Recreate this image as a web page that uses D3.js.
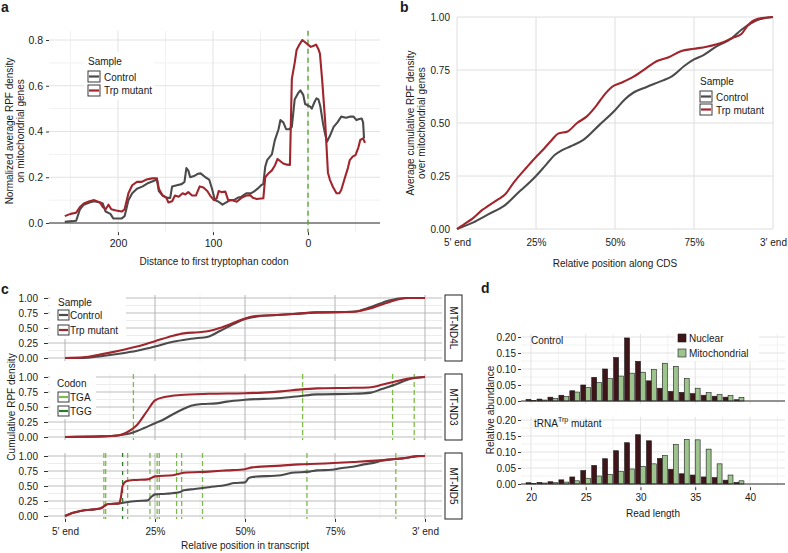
<!DOCTYPE html>
<html><head><meta charset="utf-8">
<script src="https://cdn.jsdelivr.net/npm/d3@7"></script>
<style>body{margin:0;background:#fff;} svg{display:block;}</style>
</head><body><svg id="chart" width="788" height="553"></svg>
<script>
// ---------------- DATA ----------------
// Panel a: [distance to first Trp codon, normalized density]
const aControl = [[256,0.005],[248,0.008],[244,0.01],[240,0.06],[236,0.08],[230,0.09],[225,0.095],[219,0.09],[216,0.085],[213,0.05],[208,0.04],[205,0.02],[196,0.02],[193,0.03],[189,0.10],[185,0.13],[180,0.15],[174,0.16],[168,0.175],[162,0.185],[159,0.19],[157,0.14],[153,0.12],[148,0.11],[145,0.11],[143,0.16],[138,0.165],[133,0.17],[130,0.18],[128,0.24],[126,0.23],[124,0.20],[120,0.205],[116,0.215],[113,0.217],[108,0.2],[104,0.19],[101,0.15],[98,0.10],[94,0.093],[90,0.08],[86,0.09],[82,0.1],[78,0.1],[74,0.11],[70,0.115],[65,0.13],[60,0.13],[57,0.137],[53,0.15],[49,0.166],[47,0.17],[45,0.246],[43,0.275],[40,0.29],[38,0.30],[35,0.36],[31,0.41],[29,0.45],[26,0.44],[23,0.41],[20,0.41],[17,0.42],[14,0.54],[10,0.57],[8,0.58],[5,0.56],[3,0.52],[1,0.516],[-2,0.51],[-4,0.50],[-7,0.53],[-9,0.545],[-11,0.54],[-13,0.51],[-16,0.43],[-18,0.39],[-20,0.355],[-23,0.38],[-27,0.42],[-31,0.44],[-35,0.465],[-40,0.46],[-44,0.465],[-48,0.465],[-51,0.45],[-54,0.455],[-56.5,0.457],[-58,0.44],[-59,0.37]];
const aMutant = [[256,0.03],[250,0.04],[244,0.045],[240,0.07],[236,0.085],[230,0.095],[225,0.1],[219,0.09],[216,0.07],[213,0.06],[210,0.08],[207,0.06],[202,0.055],[196,0.05],[193,0.06],[189,0.13],[185,0.165],[180,0.18],[175,0.18],[170,0.19],[164,0.195],[159,0.195],[157,0.15],[153,0.12],[149,0.11],[147,0.09],[143,0.095],[140,0.12],[136,0.115],[132,0.13],[129,0.125],[126,0.135],[122,0.12],[118,0.12],[114,0.16],[110,0.155],[106,0.14],[103,0.12],[99,0.10],[96,0.108],[94,0.14],[91,0.135],[87,0.137],[84,0.10],[80,0.1],[75,0.093],[70,0.11],[65,0.12],[61,0.122],[58,0.11],[54,0.105],[47,0.108],[45,0.2],[42,0.215],[38,0.23],[35,0.25],[32,0.28],[29,0.27],[26,0.26],[22,0.255],[19,0.254],[17,0.63],[14,0.7],[12,0.756],[9,0.78],[6,0.80],[3,0.79],[0,0.78],[-3,0.77],[-6,0.775],[-8.5,0.78],[-11,0.76],[-12.6,0.74],[-15,0.62],[-18,0.45],[-21,0.22],[-23,0.19],[-26,0.16],[-30,0.13],[-33,0.13],[-35,0.144],[-39,0.2],[-42,0.24],[-44,0.275],[-47,0.29],[-50,0.297],[-53,0.33],[-55,0.363],[-58,0.37],[-59,0.36],[-60,0.35]];
const aXTicks = [200, 100, 0];
const aXMinor = [250, 150, 50, -50];
const aYTicks = [0, 0.2, 0.4, 0.6, 0.8];
const aYMinor = [0.1, 0.3, 0.5, 0.7];

// Panel b: [relative position along CDS, cumulative density]
const bControl = [[0,0],[0.05,0.03],[0.1,0.07],[0.15,0.11],[0.2,0.18],[0.23,0.22],[0.25,0.25],[0.28,0.3],[0.31,0.35],[0.33,0.37],[0.36,0.39],[0.4,0.42],[0.45,0.49],[0.5,0.56],[0.53,0.61],[0.56,0.645],[0.6,0.67],[0.65,0.7],[0.68,0.72],[0.72,0.77],[0.75,0.80],[0.78,0.82],[0.82,0.86],[0.87,0.9],[0.9,0.94],[0.93,0.97],[0.96,0.99],[1,1]];
const bMutant = [[0,0],[0.02,0.02],[0.05,0.05],[0.08,0.09],[0.1,0.11],[0.13,0.14],[0.15,0.16],[0.18,0.22],[0.22,0.29],[0.25,0.34],[0.27,0.37],[0.3,0.42],[0.32,0.45],[0.35,0.46],[0.38,0.5],[0.41,0.53],[0.44,0.58],[0.47,0.64],[0.49,0.67],[0.52,0.69],[0.56,0.72],[0.6,0.76],[0.63,0.79],[0.67,0.81],[0.71,0.84],[0.75,0.85],[0.79,0.86],[0.84,0.88],[0.87,0.9],[0.9,0.92],[0.92,0.96],[0.95,0.99],[1,1]];
const posTicks = [0, 0.25, 0.5, 0.75, 1];
const posLabels = ["5\u2032 end", "25%", "50%", "75%", "3\u2032 end"];
const cumTicks = [0, 0.25, 0.5, 0.75, 1];

// Panel c: facets
const cFacets = ["MT-ND4L", "MT-ND3", "MT-ND5"];
const cND4LControl = [[0,0],[0.05,0],[0.1,0.03],[0.15,0.07],[0.2,0.12],[0.25,0.19],[0.3,0.27],[0.35,0.32],[0.4,0.36],[0.43,0.45],[0.47,0.57],[0.5,0.65],[0.53,0.69],[0.6,0.72],[0.65,0.74],[0.7,0.76],[0.8,0.77],[0.85,0.85],[0.9,0.96],[0.95,1],[1,1]];
const cND4LMutant = [[0,0],[0.05,0.01],[0.1,0.06],[0.15,0.12],[0.2,0.19],[0.25,0.28],[0.3,0.37],[0.33,0.41],[0.37,0.43],[0.4,0.45],[0.43,0.5],[0.47,0.59],[0.5,0.66],[0.53,0.7],[0.6,0.72],[0.65,0.74],[0.7,0.76],[0.8,0.77],[0.85,0.83],[0.9,0.93],[0.95,1],[1,1]];
const cND3Control = [[0,0],[0.1,0.01],[0.15,0.03],[0.18,0.06],[0.2,0.1],[0.22,0.15],[0.25,0.23],[0.27,0.28],[0.3,0.38],[0.33,0.47],[0.35,0.52],[0.38,0.55],[0.42,0.56],[0.45,0.59],[0.5,0.62],[0.6,0.65],[0.65,0.68],[0.7,0.71],[0.8,0.72],[0.85,0.74],[0.88,0.8],[0.92,0.88],[0.96,0.97],[1,1]];
const cND3Mutant = [[0,0],[0.1,0.01],[0.15,0.03],[0.17,0.07],[0.2,0.2],[0.23,0.45],[0.25,0.61],[0.28,0.67],[0.32,0.7],[0.4,0.72],[0.5,0.73],[0.55,0.74],[0.6,0.76],[0.65,0.79],[0.7,0.81],[0.8,0.82],[0.85,0.83],[0.88,0.87],[0.92,0.93],[0.95,0.97],[1,1]];
const cND5Control = [[0,0],[0.02,0.05],[0.04,0.08],[0.06,0.1],[0.08,0.11],[0.1,0.13],[0.11,0.17],[0.12,0.2],[0.15,0.21],[0.17,0.23],[0.2,0.25],[0.23,0.26],[0.24,0.32],[0.25,0.36],[0.28,0.37],[0.32,0.4],[0.33,0.43],[0.36,0.45],[0.4,0.48],[0.45,0.52],[0.47,0.55],[0.5,0.56],[0.51,0.63],[0.52,0.65],[0.6,0.68],[0.63,0.72],[0.68,0.74],[0.7,0.76],[0.74,0.77],[0.77,0.8],[0.8,0.82],[0.83,0.86],[0.86,0.89],[0.88,0.92],[0.9,0.94],[0.94,0.96],[0.97,0.99],[1,1]];
const cND5Mutant = [[0,0],[0.02,0.05],[0.04,0.08],[0.06,0.1],[0.08,0.11],[0.1,0.13],[0.11,0.17],[0.12,0.2],[0.15,0.21],[0.155,0.3],[0.16,0.5],[0.17,0.58],[0.19,0.6],[0.23,0.61],[0.25,0.66],[0.3,0.68],[0.33,0.72],[0.4,0.74],[0.45,0.76],[0.5,0.78],[0.52,0.81],[0.6,0.84],[0.65,0.86],[0.7,0.87],[0.8,0.9],[0.9,0.94],[0.95,0.97],[0.98,1],[1,1]];
const cND4LTGA = [];
const cND4LTGG = [];
const cND3TGA = [0.19, 0.66, 0.91, 0.97];
const cND3TGG = [];
const cND5TGA = [0.108, 0.113, 0.174, 0.236, 0.256, 0.262, 0.31, 0.324, 0.382, 0.672, 0.919];
const cND5TGG = [0.16];

// Panel d: read length distributions
const dFacets = ["Control", "tRNA^Trp mutant"];
const dLengths = [20,21,22,23,24,25,26,27,28,29,30,31,32,33,34,35,36,37,38,39];
const dControlNuclear = [0.005,0.006,0.012,0.018,0.032,0.05,0.074,0.1,0.136,0.197,0.124,0.063,0.04,0.03,0.027,0.023,0.018,0.015,0.012,0.004];
const dControlMito    = [0.002,0.003,0.008,0.014,0.028,0.042,0.058,0.07,0.078,0.087,0.09,0.098,0.118,0.108,0.07,0.04,0.026,0.02,0.017,0.011];
const dMutantNuclear  = [0.004,0.005,0.007,0.013,0.022,0.042,0.058,0.079,0.104,0.129,0.154,0.135,0.08,0.046,0.032,0.028,0.022,0.02,0.012,0.005];
const dMutantMito     = [0.002,0.003,0.004,0.006,0.01,0.018,0.025,0.03,0.04,0.047,0.055,0.063,0.089,0.123,0.139,0.138,0.109,0.063,0.028,0.01];
const dXTicks = [20, 25, 30, 35, 40];
const dXMinor = [22.5, 27.5, 32.5, 37.5, 42.5];
const dYTicks = [0, 0.05, 0.1, 0.15, 0.2];
const dYMinor = [0.025, 0.075, 0.125, 0.175];

// ---------------- STYLE ----------------
const FONT = '"Liberation Sans", Arial, Helvetica, sans-serif';
const CTRL = "#4b4b4b", MUT = "#a1252c";
const TGA = "#7dbb4a", TGG = "#2f7a2a";
const NUC = "#3f1519", MITO = "#9dc48d";
const TXT = "#1a1a1a";

const svg = d3.select("#chart").style("font-family", FONT);

function label(x, y, s, o = {}) {
  const t = svg.append("text").attr("x", x).attr("y", y)
    .attr("font-size", o.size || 10).attr("text-anchor", o.anchor || "start")
    .attr("dominant-baseline", "central").attr("fill", TXT)
    .attr("font-family", FONT).text(s);
  if (o.weight) t.attr("font-weight", o.weight);
  if (o.rot) t.attr("transform", `rotate(${o.rot},${x},${y})`);
  return t;
}
function styleAxis(g, size = 10) {
  g.select(".domain").remove();
  g.selectAll(".tick line").attr("stroke", "#333");
  g.selectAll(".tick text").attr("fill", TXT).attr("font-size", size).attr("font-family", FONT);
}
function vgrid(g, vals, x, T, B, color, w = 1) {
  g.append("g").selectAll("line").data(vals).join("line")
    .attr("x1", d => x(d)).attr("x2", d => x(d)).attr("y1", T).attr("y2", B)
    .attr("stroke", color).attr("stroke-width", w);
}
function hgrid(g, vals, y, L, R, color, w = 1) {
  g.append("g").selectAll("line").data(vals).join("line")
    .attr("y1", d => y(d)).attr("y2", d => y(d)).attr("x1", L).attr("x2", R)
    .attr("stroke", color).attr("stroke-width", w);
}
function bg(x, y, w, h) {
  svg.append("rect").attr("x", x).attr("y", y).attr("width", w).attr("height", h).attr("fill", "#fff");
}
function key(x, y, w, h, color) {
  svg.append("rect").attr("x", x).attr("y", y).attr("width", w).attr("height", h)
    .attr("fill", "#fff").attr("stroke", "#3a3a3a").attr("stroke-width", 1);
  svg.append("line").attr("x1", x + 1).attr("x2", x + w - 1).attr("y1", y + h / 2).attr("y2", y + h / 2)
    .attr("stroke", color).attr("stroke-width", 2.2);
}

// ---------------- PANEL A ----------------
{
  const x = d3.scaleLinear().domain([272.6, -75.8]).range([49, 380]);
  const y = d3.scaleLinear().domain([0, 0.8]).range([223, 40]);
  const L = 49, R = 380, T = y(0.84), B = y(-0.04);
  const g = svg.append("g");
  vgrid(g, aXMinor, x, T, B, "#f1f1f1");
  hgrid(g, aYMinor, y, L, R, "#f1f1f1");
  vgrid(g, aXTicks, x, T, B, "#e2e2e2");
  hgrid(g, aYTicks, y, L, R, "#e2e2e2");
  g.append("line").attr("x1", L).attr("x2", R).attr("y1", y(0)).attr("y2", y(0)).attr("stroke", "#333").attr("stroke-width", 1.2);
  g.append("line").attr("x1", x(0)).attr("x2", x(0)).attr("y1", T).attr("y2", B)
    .attr("stroke", "#5aa832").attr("stroke-width", 1.4).attr("stroke-dasharray", "5,4");
  const line = d3.line().x(d => x(d[0])).y(d => y(d[1]));
  g.append("path").datum(aControl).attr("d", line).attr("fill", "none").attr("stroke", CTRL).attr("stroke-width", 2.1).attr("stroke-linejoin", "round");
  g.append("path").datum(aMutant).attr("d", line).attr("fill", "none").attr("stroke", MUT).attr("stroke-width", 2.1).attr("stroke-linejoin", "round");
  g.append("g").attr("transform", `translate(${L},0)`)
    .call(d3.axisLeft(y).tickValues(aYTicks).tickFormat(d3.format(".1f")).tickSize(3).tickPadding(3)).call(s => styleAxis(s, 10.5));
  g.append("g").attr("transform", `translate(0,${B})`)
    .call(d3.axisBottom(x).tickValues(aXTicks).tickFormat(d3.format("d")).tickSize(3).tickPadding(4)).call(s => styleAxis(s, 10.5));
  label(9, 131, "Normalized average RPF density", { anchor: "middle", rot: -90 });
  label(20, 131, "on mitochondrial genes", { anchor: "middle", rot: -90 });
  label(214, 261, "Distance to first tryptophan codon", { anchor: "middle" });
  bg(84, 52, 70, 48);
  label(88, 61, "Sample");
  key(88, 71, 12, 11, CTRL); label(104, 77, "Control");
  key(88, 85, 12, 11, MUT); label(104, 90, "Trp mutant");
  label(1, 7, "a", { size: 14, weight: "bold" });
}

// ---------------- PANEL B ----------------
{
  const x = d3.scaleLinear().domain([0, 1]).range([457, 773]);
  const y = d3.scaleLinear().domain([0, 1]).range([229, 17]);
  const g = svg.append("g");
  vgrid(g, posTicks, x, 17, 229, "#dedede");
  hgrid(g, cumTicks, y, 457, 773, "#dedede");
  const line = d3.line().x(d => x(d[0])).y(d => y(d[1])).curve(d3.curveMonotoneX);
  g.append("path").datum(bControl).attr("d", line).attr("fill", "none").attr("stroke", CTRL).attr("stroke-width", 2.1);
  g.append("path").datum(bMutant).attr("d", line).attr("fill", "none").attr("stroke", MUT).attr("stroke-width", 2.1);
  g.append("g").attr("transform", `translate(457,0)`)
    .call(d3.axisLeft(y).tickValues(cumTicks).tickFormat(d3.format(".2f")).tickSize(0).tickPadding(7)).call(styleAxis);
  g.append("g").attr("transform", `translate(0,229)`)
    .call(d3.axisBottom(x).tickValues(posTicks).tickFormat((d, i) => posLabels[i]).tickSize(0).tickPadding(10)).call(styleAxis);
  label(410, 123, "Average cumulative RPF density", { anchor: "middle", rot: -90 });
  label(421, 123, "over mitochondrial genes", { anchor: "middle", rot: -90 });
  label(615, 263, "Relative position along CDS", { anchor: "middle" });
  bg(697, 72, 72, 47);
  label(700, 81, "Sample");
  key(700, 91, 12, 11, CTRL); label(716, 97, "Control");
  key(700, 104, 12, 11, MUT); label(716, 110, "Trp mutant");
  label(400, 7, "b", { size: 14, weight: "bold" });
}

// ---------------- PANEL C ----------------
{
  const x = d3.scaleLinear().domain([0, 1]).range([65, 425]);
  const L = 48, R = 442;
  const tops = [298, 377, 456];
  const controls = [cND4LControl, cND3Control, cND5Control];
  const mutants = [cND4LMutant, cND3Mutant, cND5Mutant];
  const tgas = [cND4LTGA, cND3TGA, cND5TGA];
  const tggs = [cND4LTGG, cND3TGG, cND5TGG];
  const minorY = [0.125, 0.375, 0.625, 0.875];
  const minorX = [0.125, 0.375, 0.625, 0.875];
  cFacets.forEach((name, i) => {
    const top = tops[i];
    const y = d3.scaleLinear().domain([0, 1]).range([top + 60, top]);
    const T = top - 3, B = top + 63;
    const g = svg.append("g");
    hgrid(g, minorY, y, L, R, "#ececec");
    vgrid(g, minorX, x, T, B, "#f2f2f2");
    hgrid(g, cumTicks, y, L, R, "#bdbdbd");
    vgrid(g, posTicks, x, T, B, "#b3b3b3");
    if (i === 0) { g.append("rect").attr("x", 50).attr("y", 293).attr("width", 76).attr("height", 46).attr("fill", "#fff"); }
    if (i === 1) { g.append("rect").attr("x", 50).attr("y", 373).attr("width", 46).attr("height", 46).attr("fill", "#fff"); }
    g.append("g").selectAll("line").data(tgas[i]).join("line")
      .attr("x1", d => x(d)).attr("x2", d => x(d)).attr("y1", T).attr("y2", B)
      .attr("stroke", TGA).attr("stroke-width", 1.3).attr("stroke-dasharray", "5,3");
    g.append("g").selectAll("line").data(tggs[i]).join("line")
      .attr("x1", d => x(d)).attr("x2", d => x(d)).attr("y1", T).attr("y2", B)
      .attr("stroke", TGG).attr("stroke-width", 1.3).attr("stroke-dasharray", "4,5");
    const line = d3.line().x(d => x(d[0])).y(d => y(d[1])).curve(d3.curveMonotoneX);
    g.append("path").datum(controls[i]).attr("d", line).attr("fill", "none").attr("stroke", CTRL).attr("stroke-width", 2.1);
    g.append("path").datum(mutants[i]).attr("d", line).attr("fill", "none").attr("stroke", MUT).attr("stroke-width", 2.1);
    g.append("g").attr("transform", `translate(${L},0)`)
      .call(d3.axisLeft(y).tickValues(cumTicks).tickFormat(d3.format(".2f")).tickSize(4).tickPadding(6)).call(styleAxis);
    // strip
    g.append("rect").attr("x", 445).attr("y", T).attr("width", 17).attr("height", B - T)
      .attr("fill", "#fff").attr("stroke", "#222").attr("stroke-width", 1);
    label(453.5, (T + B) / 2, name, { anchor: "middle", rot: 90 });
    if (i === 2) {
      g.append("g").attr("transform", `translate(0,${B})`)
        .call(d3.axisBottom(x).tickValues(posTicks).tickFormat((d, k) => posLabels[k]).tickSize(3).tickPadding(6)).call(styleAxis);
    }
  });
  label(11, 407, "Cumulative RPF density", { anchor: "middle", rot: -90 });
  label(245, 545, "Relative position in transcript", { anchor: "middle" });
  label(58, 302, "Sample");
  key(58, 310, 11, 10, CTRL); label(70, 315, "Control");
  key(58, 325, 11, 10, MUT); label(70, 330, "Trp mutant");
  label(57, 383, "Codon");
  key(58, 392, 11, 10, TGA); label(70, 397, "TGA");
  key(58, 406, 11, 10, TGG); label(70, 411, "TGG");
  label(1, 289, "c", { size: 14, weight: "bold" });
}

// ---------------- PANEL D ----------------
{
  const x = d3.scaleLinear().domain([19.09, 43.2]).range([521, 785]);
  const L = 521, R = 785;
  const zeros = [401, 484];
  const nucs = [dControlNuclear, dMutantNuclear];
  const mitos = [dControlMito, dMutantMito];
  const bw = 0.45;
  dFacets.forEach((name, i) => {
    const y = d3.scaleLinear().domain([0, 0.2]).range([zeros[i], zeros[i] - 64]);
    const T = y(0.21), B = y(-0.01);
    const g = svg.append("g");
    vgrid(g, dXMinor, x, T, B, "#f1f1f1");
    hgrid(g, dYMinor, y, L, R, "#f1f1f1");
    vgrid(g, dXTicks, x, T, B, "#e3e3e3");
    hgrid(g, dYTicks, y, L, R, "#e3e3e3");
    g.append("g").selectAll("rect").data(dLengths).join("rect")
      .attr("x", d => x(d - bw)).attr("width", x(bw) - x(0))
      .attr("y", (d, k) => y(nucs[i][k])).attr("height", (d, k) => y(0) - y(nucs[i][k]))
      .attr("fill", NUC).attr("stroke", "#1a1a1a").attr("stroke-width", 0.6);
    g.append("g").selectAll("rect").data(dLengths).join("rect")
      .attr("x", d => x(d)).attr("width", x(bw) - x(0))
      .attr("y", (d, k) => y(mitos[i][k])).attr("height", (d, k) => y(0) - y(mitos[i][k]))
      .attr("fill", MITO).attr("stroke", "#1a1a1a").attr("stroke-width", 0.6);
    g.append("line").attr("x1", L).attr("x2", R).attr("y1", y(0)).attr("y2", y(0)).attr("stroke", "#333").attr("stroke-width", 1.2);
    g.append("g").attr("transform", `translate(${L},0)`)
      .call(d3.axisLeft(y).tickValues(dYTicks).tickFormat(d3.format(".2f")).tickSize(3).tickPadding(2)).call(styleAxis);
    if (i === 1) {
      g.append("g").attr("transform", `translate(0,${B})`)
        .call(d3.axisBottom(x).tickValues(dXTicks).tickFormat(d3.format("d")).tickSize(3).tickPadding(4)).call(styleAxis);
    }
  });
  label(531, 340, "Control");
  const t = label(534, 423, "tRNA");
  t.append("tspan").attr("font-size", 7).attr("dy", -4).text("Trp");
  t.append("tspan").attr("dy", 4).text(" mutant");
  label(490, 410, "Relative abundance", { anchor: "middle", rot: -90 });
  label(653, 513, "Read length", { anchor: "middle" });
  bg(675, 331, 84, 30);
  svg.append("rect").attr("x", 678).attr("y", 334).attr("width", 8).attr("height", 8).attr("fill", NUC).attr("stroke", "#1a1a1a").attr("stroke-width", 0.6);
  label(689, 338, "Nuclear");
  svg.append("rect").attr("x", 678).attr("y", 349).attr("width", 8).attr("height", 8).attr("fill", MITO).attr("stroke", "#1a1a1a").attr("stroke-width", 0.6);
  label(689, 353, "Mitochondrial");
  label(481, 288, "d", { size: 14, weight: "bold" });
}
</script></body></html>
